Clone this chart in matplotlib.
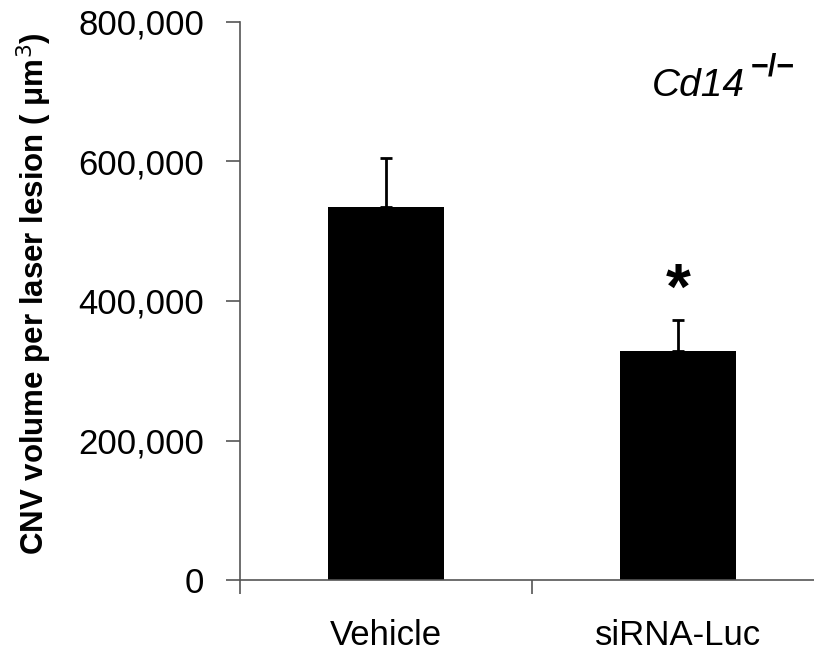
import matplotlib.pyplot as plt
from matplotlib.ticker import FuncFormatter

plt.rcParams['font.family'] = ['Liberation Sans', 'DejaVu Sans']

groups = ['Vehicle', 'siRNA-Luc']
cnv_mean = [535000, 328000]
cnv_sem = [70000, 45000]
yticks = [0, 200000, 400000, 600000, 800000]

fig = plt.figure(figsize=(8.14, 6.54), dpi=100)
# x-limits span a full category either side, so the right end runs past the figure edge
ax = fig.add_axes([240 / 814, 74 / 654, 584 / 814, 558 / 654])

x = range(len(groups))
ax.bar(x, cnv_mean, width=0.4, color='black', zorder=2)
ax.errorbar(x, cnv_mean, yerr=[[0, 0], cnv_sem], fmt='none', ecolor='black',
            elinewidth=2, capsize=4, capthick=2, zorder=3)

# significance marker over siRNA-Luc
ax.text(1, cnv_mean[1] + cnv_sem[1] + 40000, '*', ha='center', va='center',
        fontsize=46, fontweight='bold')

# genotype label
ax.text(0.865, 0.868, 'Cd14', transform=ax.transAxes, ha='right', va='baseline',
        fontsize=28, fontstyle='italic')
ax.text(0.875, 0.905, '\u2212/\u2212', transform=ax.transAxes, ha='left',
        va='baseline', fontsize=22, fontweight='bold')

ax.set_xlim(-0.5, 1.5)
ax.set_ylim(0, 800000)
ax.set_yticks(yticks)
ax.yaxis.set_major_formatter(FuncFormatter(lambda v, p: f'{int(v):,}'))
ax.set_xticks([-0.5, 0.5, 1.5])
ax.set_xticklabels([])
ax.set_xticks([0, 1], minor=True)
ax.set_xticklabels(groups, minor=True, fontsize=25)
ax.tick_params(axis='x', which='minor', length=0, pad=28)
ax.tick_params(axis='x', which='major', length=10, width=1.2, color='#555555')
ax.tick_params(axis='y', length=10, width=1.2, color='#555555', labelsize=25, pad=16)

for s in ['top', 'right']:
    ax.spines[s].set_visible(False)
for s in ['left', 'bottom']:
    ax.spines[s].set_color('#555555')
    ax.spines[s].set_linewidth(1.2)

ax.set_ylabel('CNV volume per laser lesion ( \u03bcm$^3$)', fontsize=22.5,
              fontweight='bold', va='center')
ax.yaxis.set_label_coords(-0.352, 0.513)

fig.savefig('out.png', dpi=100)
